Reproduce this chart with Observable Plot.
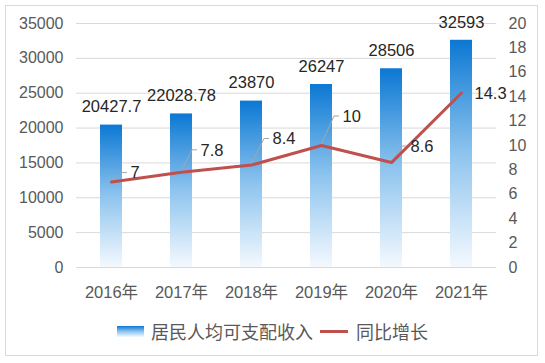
<!DOCTYPE html>
<html>
<head>
<meta charset="utf-8">
<script src="https://cdn.jsdelivr.net/npm/d3@7"></script>
<script src="https://cdn.jsdelivr.net/npm/@observablehq/plot@0.6"></script>
<style>
  html, body { margin: 0; padding: 0; background: #fff; }
  #wrap { position: relative; width: 545px; height: 363px; overflow: hidden;
    font-family: "Liberation Sans", "Noto Sans CJK SC", sans-serif; color: #595959; }
  #frame { position: absolute; left: 5px; top: 5px; width: 531px; height: 349px; border: 1px solid #d9d9d9; }
  #chart { position: absolute; left: 0; top: 0; }
  #legend { position: absolute; left: 0; top: 318px; width: 545px; display: flex; justify-content: center;
    align-items: center; font-size: 18px; color: #595959; }
  .sw-bar { width: 27px; height: 11px; background: linear-gradient(#0b78d3, #8ec4ee 50%, #f4f9fe); margin-right: 7px; }
  .sw-line { width: 28px; height: 3px; background: #c0504d; margin-left: 7px; margin-right: 8px; }
</style>
</head>
<body>
<div id="wrap">
  <div id="frame"></div>
  <div id="chart"></div>
  <div id="legend">
    <span class="sw-bar"></span><span>居民人均可支配收入</span>
    <span class="sw-line"></span><span>同比增长</span>
  </div>
</div>
<script>
// ---- data ----
const years = ["2016年", "2017年", "2018年", "2019年", "2020年", "2021年"];
const income = [20427.7, 22028.78, 23870, 26247, 28506, 32593];
const growth = [7, 7.8, 8.4, 10, 8.6, 14.3];
const leftTicks = [0, 5000, 10000, 15000, 20000, 25000, 30000, 35000];
const rightTicks = [0, 2, 4, 6, 8, 10, 12, 14, 16, 18, 20];

// ---- styling (pixel offsets of growth labels, not data) ----
const growthLabelDy = [-9, -22, -26, -29, -16, 1];
const growthLabelDx = [19, 19, 21, 21, 19, 13];
const growthLeader = [true, true, true, true, true, false];

const leftMax = 35000, rightMax = 20;
const k = leftMax / rightMax; // map growth onto the left scale

const rows = years.map((y, i) => ({year: y, income: income[i], growth: growth[i], gy: growth[i] * k, i}));

const gradient = () => {
  const defs = d3.create("svg:defs");
  const g = defs.append("linearGradient").attr("id", "barGrad").attr("x1", 0).attr("y1", 0).attr("x2", 0).attr("y2", 1);
  g.append("stop").attr("offset", "0%").attr("stop-color", "#0b78d3");
  g.append("stop").attr("offset", "50%").attr("stop-color", "#8ec4ee");
  g.append("stop").attr("offset", "100%").attr("stop-color", "#f4f9fe");
  return defs.node();
};

const leaders = (index, scales) => {
  const x = scales.x, y = scales.y;
  const off = x.bandwidth ? x.bandwidth() / 2 : 0;
  const g = d3.create("svg:g").attr("fill", "none").attr("stroke", "#a6a6a6").attr("stroke-width", 1);
  rows.forEach((r, i) => {
    if (!growthLeader[i]) return;
    const px = x(r.year) + off, py = y(r.gy);
    const ex = px + growthLabelDx[i] - 8, ey = py + growthLabelDy[i];
    g.append("path").attr("d", `M${px},${py}L${ex},${ey}L${ex + 5},${ey}`);
  });
  return g.node();
};

const labelMarks = rows.map((r, i) =>
  Plot.text([r], {x: "year", y: "gy", text: d => String(d.growth), textAnchor: "start",
    dx: growthLabelDx[i], dy: growthLabelDy[i], fontSize: 16.5, fill: "#262626"})
);

const chart = Plot.plot({
  width: 545,
  height: 312,
  marginTop: 23,
  marginBottom: 45,
  marginLeft: 76,
  marginRight: 49,
  style: {fontFamily: "'Liberation Sans', 'Noto Sans CJK SC', sans-serif", fontSize: "16px", color: "#595959", background: "transparent"},
  x: {type: "band", domain: years, paddingInner: 0.686, paddingOuter: 0.343, label: null},
  y: {domain: [0, leftMax], label: null},
  marks: [
    gradient,
    Plot.gridY(leftTicks, {stroke: "#d9d9d9", strokeOpacity: 1}),
    Plot.axisY(leftTicks, {anchor: "left", tickSize: 0, tickPadding: 13, tickFormat: d => String(d), fontSize: 16, label: null}),
    Plot.axisY(rightTicks.map(v => v * k), {anchor: "right", tickSize: 0, tickPadding: 12, tickFormat: d => String(Math.round(d / k)), fontSize: 16, label: null}),
    Plot.axisX({tickSize: 0, tickPadding: 19, fontSize: 16.5, label: null}),
    Plot.barY(rows, {x: "year", y: "income", fill: "url(#barGrad)"}),
    Plot.text(rows, {x: "year", y: "income", text: d => String(d.income), dy: -18, fontSize: 16.5, fill: "#262626"}),
    leaders,
    Plot.line(rows, {x: "year", y: "gy", stroke: "#c0504d", strokeWidth: 3, strokeLinejoin: "round", strokeLinecap: "round"}),
    ...labelMarks
  ]
});
document.getElementById("chart").appendChild(chart);
</script>
</body>
</html>
